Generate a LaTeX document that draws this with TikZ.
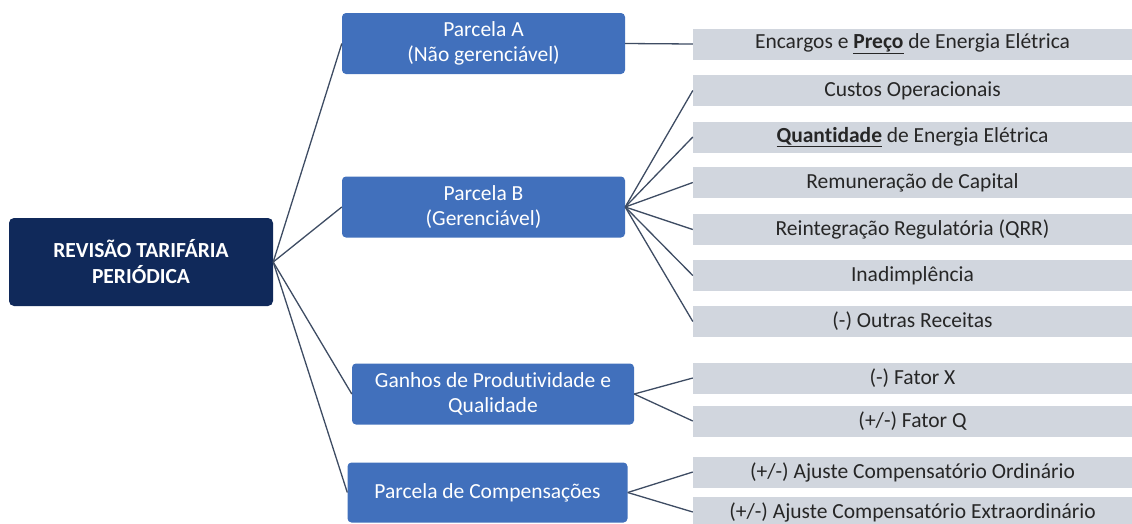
\documentclass[tikz,border=0pt]{standalone}
\usepackage{fontspec}
\setmainfont[Ligatures={NoCommon}]{Carlito}
\definecolor{navy}{HTML}{10295A}
\definecolor{parcblue}{HTML}{4170BC}
\definecolor{itemgray}{HTML}{D1D6DE}
\definecolor{linkgray}{HTML}{3E4C63}
\tikzset{
  rootbox/.style={fill=navy, rounded corners=5pt, text=white, align=center,
    minimum width=264pt, minimum height=88pt, font=\fontsize{21.5}{26}\selectfont\bfseries},
  parcbox/.style={fill=parcblue, rounded corners=4pt, text=white, align=center,
    minimum height=61pt, font=\fontsize{21.5}{25}\selectfont},
  itembox/.style={fill=itemgray, text=black!85, minimum width=439pt,
    minimum height=31pt, font=\fontsize{21.5}{24}\selectfont},
  link/.style={draw=linkgray, line width=1.3pt}
}
\begin{document}
\begin{tikzpicture}[x=1pt,y=-1pt]
            \useasboundingbox (0,0) rectangle (1132,523);
            \clip (0,0) rectangle (1132,523);

            \node[rootbox] (root) at (141,262) {REVISÃO TARIFÁRIA\\PERIÓDICA};

            \node[parcbox, minimum width=283pt] (pa) at (483.5,43.5) {Parcela A\\(Não gerenciável)};
            \node[parcbox, minimum width=283pt] (pb) at (483.5,207) {Parcela B\\(Gerenciável)};
            \node[parcbox, minimum width=282pt] (gq) at (493,394) {Ganhos de Produtividade e\\Qualidade};
            \node[parcbox, minimum width=280pt, minimum height=60pt] (pc) at (487.5,492.5) {Parcela de Compensações};

            \node[itembox] (enc) at (912.5,44) {Encargos e \underline{\textbf{Preço}} de Energia Elétrica};
            \node[itembox] (cus) at (912.5,90.5) {Custos Operacionais};
            \node[itembox] (qtd) at (912.5,137) {\underline{\textbf{Quantidade}} de Energia Elétrica};
            \node[itembox] (rem) at (912.5,182.5) {Remuneração de Capital};
            \node[itembox] (rei) at (912.5,229.5) {Reintegração Regulatória (QRR)};
            \node[itembox] (ina) at (912.5,275.5) {Inadimplência};
            \node[itembox] (out) at (912.5,321.5) {(-) Outras Receitas};
            \node[itembox] (fx) at (912.5,378) {(-) Fator X};
            \node[itembox] (fq) at (912.5,421) {(+/-) Fator Q};
            \node[itembox] (ord) at (912.5,472) {(+/-) Ajuste Compensatório Ordinário};
            \node[itembox] (ext) at (912.5,512) {(+/-) Ajuste Compensatório Extraordinário};

            \foreach \p in {pa,pb,gq,pc}
              \draw[link] (root.east) -- (\p.west);

            \draw[link] (pa.east) -- (enc.west);
            \foreach \i in {cus,qtd,rem,rei,ina,out}
              \draw[link] (pb.east) -- (\i.west);
            \draw[link] (gq.east) -- (fx.west);
            \draw[link] (gq.east) -- (fq.west);
            \draw[link] (pc.east) -- (ord.west);
            \draw[link] (pc.east) -- (ext.west);
        \end{tikzpicture}
\end{document}
